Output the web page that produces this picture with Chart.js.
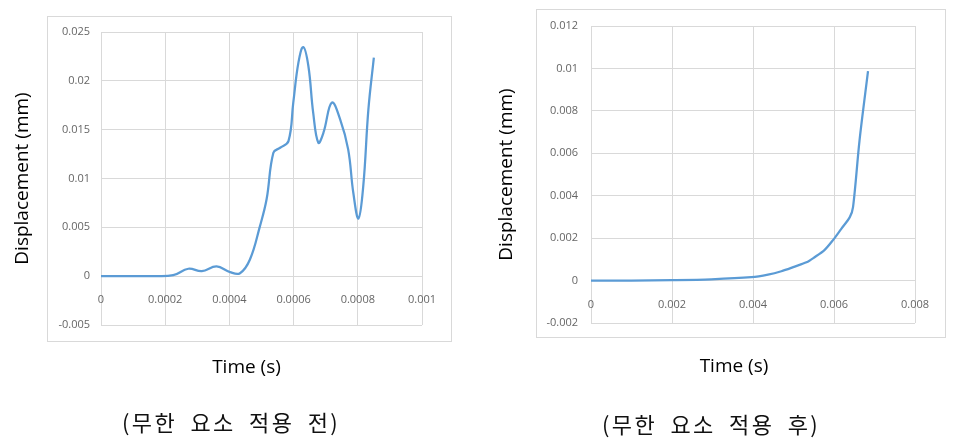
<!DOCTYPE html>
<html><head><meta charset="utf-8">
<script src="https://cdn.jsdelivr.net/npm/chart.js@4.4.0/dist/chart.umd.min.js"></script>
<style>
html,body{margin:0;padding:0;background:#fff;}
body{width:956px;height:444px;position:relative;overflow:hidden;}
.box{position:absolute;border:1px solid #d9d9d9;box-sizing:border-box;}
.wrap{position:absolute;top:0;width:478px;height:444px;}
.cap{position:absolute;font-family:"Noto Sans CJK KR";font-size:22px;line-height:22px;letter-spacing:2.4px;word-spacing:6px;white-space:nowrap;color:#111;}
</style></head><body>
<div class="box" style="left:47px;top:16px;width:405px;height:326px"></div>
<div class="box" style="left:536px;top:9px;width:410px;height:329px"></div>
<div class="wrap" style="left:0"><canvas id="c1" width="478" height="444"></canvas></div>
<div class="wrap" style="left:478px"><canvas id="c2" width="478" height="444"></canvas></div>
<div class="cap" style="left:122px;top:410px">(무한 요소 적용 전)</div>
<div class="cap" style="left:602px;top:412px">(무한 요소 적용 후)</div>
<script>
// ---- Left chart (before infinite elements) ----
const timeBefore = [0, 0.00008, 0.00016, 0.000225, 0.000272, 0.000314, 0.00036, 0.000402, 0.000433, 0.000464, 0.000495, 0.000516, 0.000537, 0.000558, 0.000584, 0.000599, 0.000615, 0.00063, 0.000646, 0.000661, 0.000677, 0.000693, 0.000719, 0.000745, 0.00077, 0.000786, 0.000802, 0.000817, 0.000833, 0.00085];
const dispBefore = [0, 0, 0.00001, 0.0001, 0.00076, 0.00051, 0.00099, 0.00041, 0.0003, 0.0017, 0.0051, 0.0079, 0.01264, 0.01315, 0.01383, 0.01777, 0.02186, 0.02346, 0.02152, 0.01674, 0.01367, 0.01469, 0.01777, 0.01605, 0.01298, 0.00854, 0.00591, 0.00922, 0.01708, 0.02238];
const xTickValsBefore = [0, 0.0002, 0.0004, 0.0006, 0.0008, 0.001];
const xTickLabelsBefore = ['0', '0.0002', '0.0004', '0.0006', '0.0008', '0.001'];
const yTickValsBefore = [-0.005, 0, 0.005, 0.01, 0.015, 0.02, 0.025];
const yTickLabelsBefore = ['-0.005', '0', '0.005', '0.01', '0.015', '0.02', '0.025'];

// ---- Right chart (after infinite elements) ----
const timeAfter = [0, 0.001, 0.002, 0.00297, 0.00396, 0.00437, 0.0047, 0.00503, 0.00532, 0.00552, 0.00577, 0.00598, 0.00618, 0.00639, 0.00647, 0.00663, 0.00684];
const dispAfter = [0, 0, 0.00002, 0.00006, 0.00016, 0.00028, 0.00044, 0.00066, 0.00086, 0.0011, 0.00145, 0.00192, 0.00244, 0.00299, 0.00346, 0.0066, 0.00987];
const xTickValsAfter = [0, 0.002, 0.004, 0.006, 0.008];
const xTickLabelsAfter = ['0', '0.002', '0.004', '0.006', '0.008'];
const yTickValsAfter = [-0.002, 0, 0.002, 0.004, 0.006, 0.008, 0.01, 0.012];
const yTickLabelsAfter = ['-0.002', '0', '0.002', '0.004', '0.006', '0.008', '0.01', '0.012'];

const xTitle = 'Time (s)';
const yTitle = 'Displacement (mm)';

const GRID = '#d9d9d9';
const FAMILY = '"Open Sans", "Liberation Sans", sans-serif';
const TICK_FONT = {family: FAMILY, size: 11};
const TITLE_FONT = {family: FAMILY, size: 19};

// draws the x-axis title at an offset from the plot centre
const xTitlePlugin = {
  id: 'xTitlePlugin',
  afterDraw(chart, args, opts) {
    const ca = chart.chartArea, ctx = chart.ctx;
    ctx.save();
    ctx.font = '19px ' + FAMILY;
    ctx.fillStyle = '#000';
    ctx.textAlign = 'center';
    ctx.textBaseline = 'middle';
    ctx.fillText(opts.text, (ca.left + ca.right) / 2 + opts.dx, ca.bottom + opts.dy);
    ctx.restore();
  }
};

function makeChart(id, o) {
  const pts = o.xs.map((x, i) => ({x: x, y: o.ys[i]}));
  return new Chart(document.getElementById(id), {
    type: 'line',
    data: {datasets: [{data: pts, borderColor: '#5b9bd5', borderWidth: 2.25, pointRadius: 0, tension: o.tension, fill: false, xAxisID: 'x', yAxisID: 'y'}]},
    plugins: [xTitlePlugin],
    options: {
      responsive: false, animation: false, devicePixelRatio: 1,
      layout: {padding: o.pad},
      plugins: {legend: {display: false}, tooltip: {enabled: false},
                xTitlePlugin: {text: xTitle, dx: o.xTitleDx, dy: o.xTitleDy}},
      scales: {
        x: {
          type: 'linear', position: 'bottom', min: o.xVals[0], max: o.xVals[o.xVals.length - 1],
          afterBuildTicks: a => { a.ticks = o.xVals.map(v => ({value: v})); },
          afterFit: a => { a.height = 0; },
          grid: {color: GRID, lineWidth: 1, drawTicks: false},
          border: {display: false},
          ticks: {display: false}
        },
        xl: {
          type: 'linear', position: {y: 0}, min: o.xVals[0], max: o.xVals[o.xVals.length - 1],
          afterBuildTicks: a => { a.ticks = o.xVals.map(v => ({value: v})); },
          grid: {display: false}, border: {display: false},
          ticks: {color: '#666', font: TICK_FONT, padding: o.xLabelPad, maxRotation: 0, autoSkip: false,
                  callback: (v, i) => o.xLabels[i]}
        },
        y: {
          type: 'linear', position: 'left', min: o.yVals[0], max: o.yVals[o.yVals.length - 1],
          afterBuildTicks: a => { a.ticks = o.yVals.map(v => ({value: v})); },
          afterFit: a => { a.width = o.yWidth; },
          grid: {color: GRID, lineWidth: 1, drawTicks: false},
          border: {display: false},
          ticks: {color: '#666', font: TICK_FONT, padding: o.yLabelPad, autoSkip: false,
                  callback: (v, i) => o.yLabels[i]},
          title: {display: true, text: yTitle, color: '#000', font: TITLE_FONT, padding: {top: 0, bottom: 0}}
        }
      }
    }
  });
}

makeChart('c1', {
  xs: timeBefore, ys: dispBefore, tension: 0.4,
  xVals: xTickValsBefore, xLabels: xTickLabelsBefore,
  yVals: yTickValsBefore, yLabels: yTickLabelsBefore,
  pad: {left: 11, top: 32, right: 56, bottom: 119},
  yWidth: 90, yLabelPad: 11, xLabelPad: 9, xTitleDx: -15, xTitleDy: 43
});
makeChart('c2', {
  xs: timeAfter, ys: dispAfter, tension: 0.3,
  xVals: xTickValsAfter, xLabels: xTickLabelsAfter,
  yVals: yTickValsAfter, yLabels: yTickLabelsAfter,
  pad: {left: 17, top: 26, right: 41, bottom: 121},
  yWidth: 96, yLabelPad: 13, xLabelPad: 10, xTitleDx: -19, xTitleDy: 44
});
</script>
</body></html>
